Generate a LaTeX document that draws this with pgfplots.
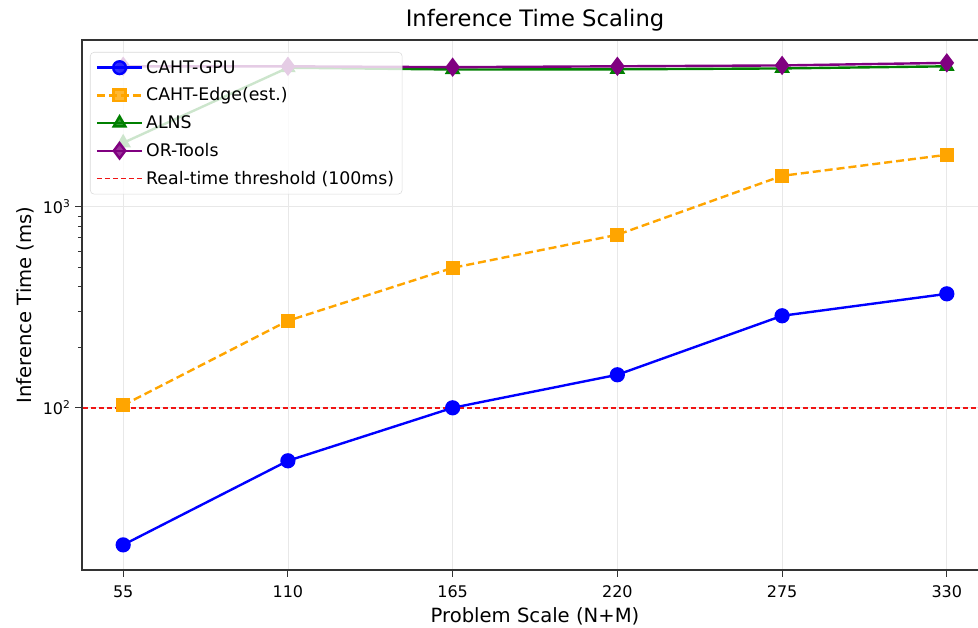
\documentclass[border=0pt]{standalone}
\usepackage{fontspec}
\setmainfont{DejaVu Sans}
\usepackage{pgfplots}
\pgfplotsset{compat=1.18}
\definecolor{cblue}{RGB}{0,0,255}
\definecolor{corange}{RGB}{255,165,0}
\definecolor{cgreen}{RGB}{0,128,0}
\definecolor{cpurple}{RGB}{128,0,128}
\definecolor{thresh}{RGB}{240,20,20}
\begin{document}
\begin{tikzpicture}
\begin{axis}[
  scale only axis,
  width=679.5pt, height=397.5pt,
  ymode=log,
  xmin=41.25, xmax=343.75,
  ymin=15.6, ymax=6760,
  xtick={55,110,165,220,275,330},
  ytick={100,1000},
  yticklabels={10\textsuperscript{2},10\textsuperscript{3}},
  /pgf/number format/assume math mode=true,
  xtick pos=bottom, ytick pos=left,
  tick align=outside,
  grid=major,
  major grid style={gray!18, line width=0.6pt},
  axis line style={line width=0.9pt, black!80},
  tick style={black!80, line width=0.7pt},
  major tick length=5pt,
  minor tick length=3pt,
  tick label style={font=\fontsize{12}{14}\selectfont},
  xticklabel style={yshift=-3pt},
  xlabel={Problem Scale (N+M)},
  ylabel={Inference Time (ms)},
  label style={font=\fontsize{14.7}{17}\selectfont},
  xlabel style={yshift=-1pt},
  title={Inference Time Scaling},
  title style={font=\fontsize{17}{19}\selectfont, yshift=-3pt},
  legend cell align=left,
  legend image code/.code={\draw[mark repeat=2,mark phase=2] plot coordinates {(0cm,0cm) (0.6cm,0cm) (1.2cm,0cm)};},
  legend style={at={(0,1)}, anchor=north west, xshift=6pt, yshift=-9pt, draw=gray!30, rounded corners=3pt,
    fill=white, fill opacity=0.8, text opacity=1, font=\fontsize{13}{15}\selectfont,
    row sep=5.5pt, inner sep=4pt},
]
\addplot[cblue, line width=1.8pt, mark=*, mark size=4.8pt, mark options={fill=cblue, draw=cblue}] coordinates {
 (55,20.8) (110,54.5) (165,100) (220,146) (275,287) (330,369)};
\addlegendentry{CAHT-GPU}
\addplot[corange, line width=1.8pt, dash pattern=on 6pt off 3pt, mark=square*, mark size=4.4pt, mark options={solid, fill=corange, draw=corange}] coordinates {
 (55,103) (110,271) (165,497) (220,726) (275,1426) (330,1815)};
\addlegendentry{CAHT-Edge(est.)}
\addplot[cgreen, line width=1.8pt, mark=triangle*, mark size=5pt, mark options={fill=cgreen, draw=cgreen}] coordinates {
 (55,2080) (110,4920) (165,4820) (220,4830) (275,4880) (330,5000)};
\addlegendentry{ALNS}
\addplot[cpurple, line width=1.8pt, mark=diamond*, mark size=5.8pt, mark options={fill=cpurple, draw=cpurple}] coordinates {
 (55,5000) (110,5000) (165,4950) (220,5000) (275,5050) (330,5200)};
\addlegendentry{OR-Tools}
\addplot[draw=thresh, color=thresh, line width=1.1pt, dash pattern=on 4pt off 2pt] coordinates {(41.5,100) (343.5,100)};
\addlegendentry{Real-time threshold (100ms)}
\end{axis}
\pgfresetboundingbox
\path[use as bounding box] ([xshift=-61.5pt,yshift=-43.5pt]current axis.south west) rectangle ([xshift=-7.5pt,yshift=30pt]current axis.north east);
\end{tikzpicture}
\end{document}
